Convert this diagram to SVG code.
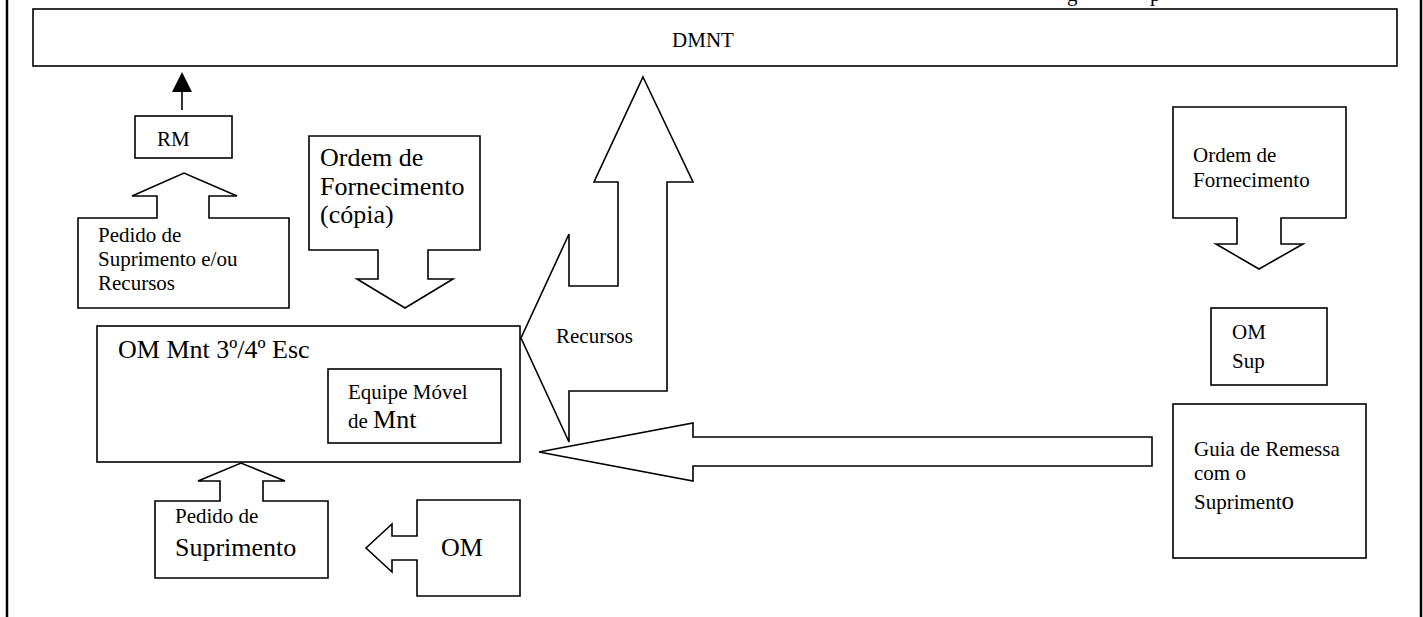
<svg xmlns="http://www.w3.org/2000/svg" width="1423" height="617" viewBox="0 0 1423 617">
<style>
.s{fill:#fff;stroke:#000;stroke-width:1.6;stroke-linejoin:miter}
.t{font-family:"Liberation Serif","Times New Roman",serif;font-size:21px;fill:#000}
.b{font-size:26px}
</style>
<rect width="1423" height="617" fill="#fff"/>
<g id="frame">
<line x1="7" y1="0" x2="7" y2="617" stroke="#000" stroke-width="2.5"/>
<line x1="1421" y1="0" x2="1421" y2="617" stroke="#000" stroke-width="2.5"/>
<text class="t" x="1067" y="1">g</text>
<text class="t" x="1150" y="1">p</text>
</g>
<g id="connectors">
<line x1="182" y1="110" x2="182" y2="91" stroke="#000" stroke-width="1.6"/>
<polygon points="182,72 172,92 192,92" fill="#000"/>
</g>
<g id="dmnt">
<rect class="s" x="33" y="9" width="1364" height="57" stroke-width="2"/>
<text class="t" x="703" y="47" text-anchor="middle">DMNT</text>
</g>
<g id="rm">
<rect class="s" x="135" y="116" width="97" height="42"/>
<text class="t" x="157" y="146">RM</text>
</g>
<g id="pedido-recursos">
<path class="s" d="M78,218 H157 V196 H132 L184,173 L237,196 H209 V218 H289 V308 H78 Z"/>
<text class="t" x="98" y="242">Pedido de</text>
<text class="t" x="98" y="266">Suprimento e/ou</text>
<text class="t" x="98" y="290">Recursos</text>
</g>
<g id="ordem-copia">
<path class="s" d="M309,136 H480 V250 H428 V279 H453 L405,308 L357,279 H378 V250 H309 Z"/>
<text class="t b" x="320" y="166">Ordem de</text>
<text class="t b" x="320" y="195">Fornecimento</text>
<text class="t b" x="320" y="223">(cópia)</text>
</g>
<g id="recursos">
<path class="s" d="M643,77 L693,182 H667 V391 H569 V442 L521,338 L569,234 V286 H618 V182 H594 Z"/>
<text class="t" x="556" y="343">Recursos</text>
</g>
<g id="guia-arrow">
<path class="s" d="M539,452 L693,423 V437 H1152 V466 H693 V481 Z"/>
</g>
<g id="om-mnt">
<rect class="s" x="97" y="326" width="423" height="136"/>
<text class="t b" x="118" y="358">OM Mnt 3º/4º Esc</text>
</g>
<g id="equipe">
<rect class="s" x="328" y="369" width="173" height="74"/>
<text class="t" x="348" y="399">Equipe Móvel</text>
<text class="t" x="348" y="428">de <tspan class="b">Mnt</tspan></text>
</g>
<g id="pedido-suprimento">
<path class="s" d="M155,501 H220 V481 H198 L241,463 L285,481 H263 V501 H328 V578 H155 Z"/>
<text class="t" x="175" y="523">Pedido de</text>
<text class="t b" x="175" y="556">Suprimento</text>
</g>
<g id="om">
<path class="s" d="M417,500 H520 V596 H417 V560 H392 V572 L366,548 L392,524 V536 H417 Z"/>
<text class="t b" x="441" y="556">OM</text>
</g>
<g id="ordem-fornecimento">
<path class="s" d="M1173,107 H1346 V218 H1281 V244 H1303 L1259,269 L1216,244 H1237 V218 H1173 Z"/>
<text class="t" x="1193" y="162">Ordem de</text>
<text class="t" x="1193" y="187">Fornecimento</text>
</g>
<g id="om-sup">
<rect class="s" x="1211" y="308" width="116" height="77"/>
<text class="t" x="1232" y="339">OM</text>
<text class="t" x="1232" y="368" font-size="24">Sup</text>
</g>
<g id="guia">
<rect class="s" x="1173" y="404" width="193" height="154"/>
<text class="t" x="1194" y="456">Guia de Remessa</text>
<text class="t" x="1194" y="480">com o</text>
<text class="t" x="1194" y="509">Supriment<tspan font-size="25">o</tspan></text>
</g>
</svg>
